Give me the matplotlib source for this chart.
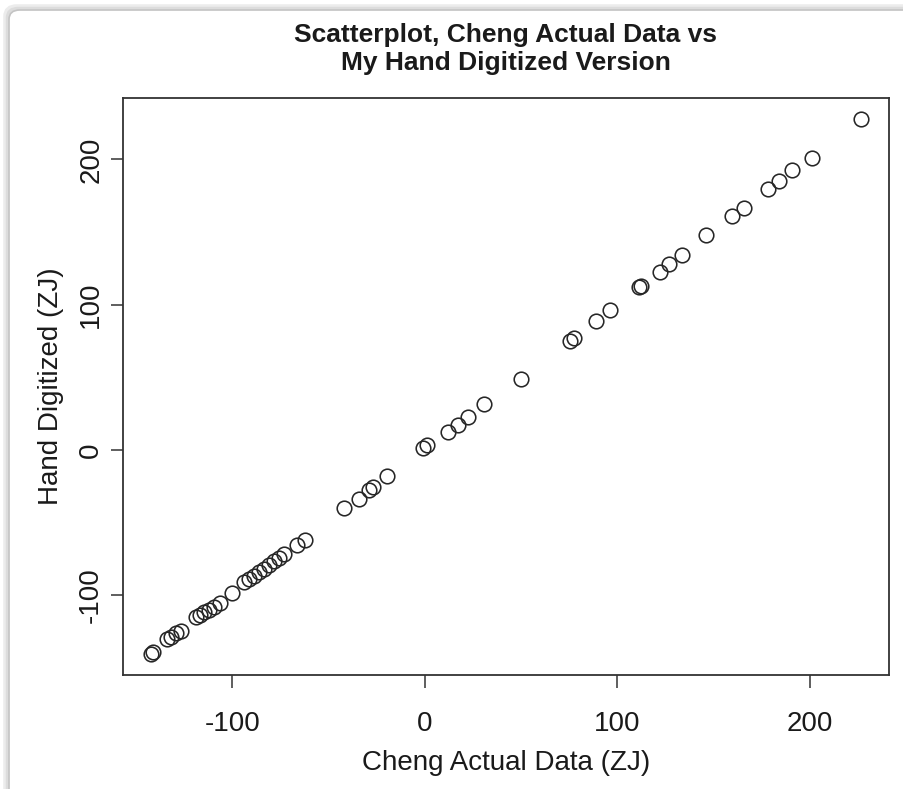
import matplotlib
matplotlib.use("Agg")
import matplotlib.pyplot as plt
from matplotlib.patches import FancyBboxPatch

# ---- data ----
cheng_actual = [
    -142, -141, -133.7, -131.6, -129.4, -126.8, -119, -116.8, -114.7, -112.1,
    -109.5, -106.4, -100,
    -94, -91.4, -88.8, -86.2, -83.6, -81, -78.4, -75.9, -73.3, -66.3, -62.4,
    -42.2, -33.9, -29.2, -26.9, -19.7, -0.7, 1.3, 12.2, 17.4, 22.6, 30.9, 49.9,
    75.6, 77.5, 88.8, 96,
    111.5, 112.5, 122.4, 127.1, 133.5, 146.1, 159.6, 166, 178.4, 184.1, 191,
    201, 226.4,
]
hand_digitized = [
    -140, -139, -130.2, -128.3, -126, -124.6, -115, -113.1, -111.5, -109.9,
    -107.6, -105.3, -98.4,
    -91, -88.6, -86.5, -84, -81.5, -79, -76.5, -74, -71.5, -65.5, -61.5,
    -40, -33.3, -27.4, -25.1, -17.9, 1.6, 3.4, 12.6, 17.2, 22.6, 31.5, 49,
    75.4, 77.4, 89.2, 96.1,
    112, 113, 122.9, 128.3, 134.5, 147.8, 161.2, 166.9, 179.5, 185, 192.6,
    201.2, 227.6,
]
tick_values = [-100, 0, 100, 200]
title_text = "Scatterplot, Cheng Actual Data vs\nMy Hand Digitized Version"
x_label = "Cheng Actual Data (ZJ)"
y_label = "Hand Digitized (ZJ)"

plt.rcParams['font.family'] = ['Liberation Sans', 'DejaVu Sans']

W, H = 904, 789
fig = plt.figure(figsize=(W / 100, H / 100), dpi=100)
fig.patch.set_facecolor("white")

# rounded frame with soft shadow (screenshot border)
for x0, col, lw in [(6, "#ececec", 4), (7.5, "#dcdcdc", 2.5), (9, "#c4c4c4", 1.2)]:
    fr = FancyBboxPatch((x0 / W, -0.05), 1.2, (H - x0 - 1) / H + 0.05,
                        boxstyle="round,pad=0,rounding_size=0.012",
                        transform=fig.transFigure, facecolor="none",
                        edgecolor=col, linewidth=lw, zorder=-10)
    fig.patches.append(fr)

left_px, right_px, top_px, bottom_px = 123, 889, 98, 675
ax = fig.add_axes([left_px / W, 1 - bottom_px / H,
                   (right_px - left_px) / W, (bottom_px - top_px) / H])
ax.set_facecolor("none")

ax.plot(cheng_actual, hand_digitized, linestyle="none", marker="o",
        markersize=10.5, markerfacecolor="none", markeredgecolor="#262626",
        markeredgewidth=1.15)

ax.margins(x=0.04, y=0.04)
ax.set_xticks(tick_values)
ax.set_yticks(tick_values)
ax.set_xticklabels([str(v) for v in tick_values])
ax.set_yticklabels([str(v) for v in tick_values], rotation=90, va="center")

for s in ax.spines.values():
    s.set_color("#333333")
    s.set_linewidth(1.3)

ax.tick_params(axis="both", direction="out", length=9, width=1.1,
               color="#333333", labelsize=20, labelcolor="#1a1a1a")
ax.tick_params(axis="x", pad=17)
ax.tick_params(axis="y", pad=4.5)

ax.set_xlabel(x_label, fontsize=20, color="#1a1a1a", labelpad=9.5)
ax.set_ylabel(y_label, fontsize=20, color="#1a1a1a", labelpad=10.5)

fig.text((left_px + right_px) / 2 / W, 1 - 49 / H, title_text,
         ha="center", va="center", fontsize=19, fontweight="bold",
         color="#1a1a1a", linespacing=1.2)

fig.savefig("out.png", dpi=100)
